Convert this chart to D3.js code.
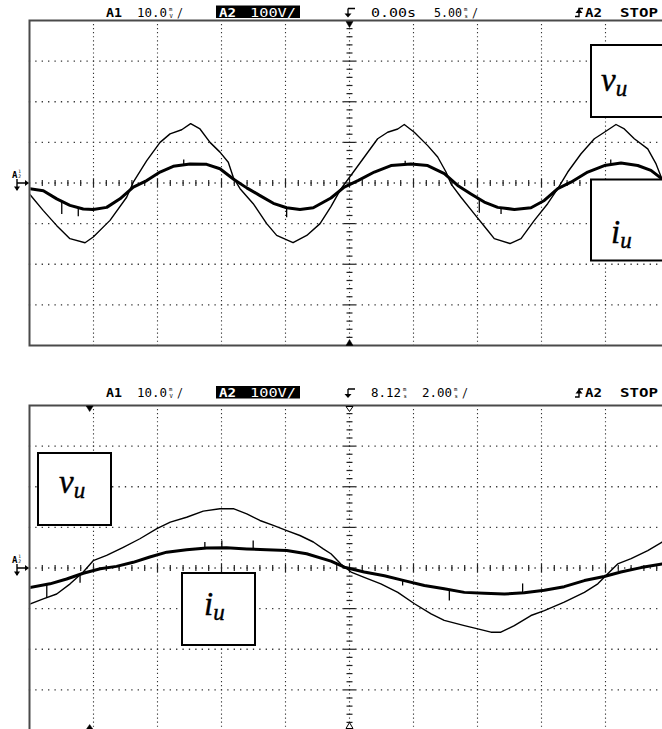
<!DOCTYPE html>
<html>
<head>
<meta charset="utf-8">
<script src="https://cdn.jsdelivr.net/npm/d3@7"></script>
<style>
  html, body { margin: 0; padding: 0; background: #fff; }
  svg { display: block; }
</style>
</head>
<body>
<svg id="scope" width="662" height="729"></svg>
<script>
// ---------- upper record: 5 ms/div, t in ms from trigger ----------
// phase voltage v_u (V, channel A2 at 100 V/div)
const vu1 = [[-25.0,-27],[-23.92,-68],[-22.87,-105],[-21.84,-137],[-20.66,-147],[-20.02,-133],[-18.71,-92],
  [-17.41,-35],[-16.89,2],[-15.84,55],[-14.80,100],[-14.02,121],[-13.11,131],[-12.41,146],[-11.68,133],
  [-10.90,100],[-10.12,76],[-9.47,51],[-9.08,14],[-8.55,-14],[-7.52,-51],[-6.47,-100],[-5.69,-129],
  [-4.41,-147],[-3.34,-129],[-2.30,-100],[-1.45,-58],[-0.66,-14],[0.12,19],[1.16,64],[2.20,109],
  [2.98,125],[3.77,133],[4.28,144],[5.06,125],[6.11,92],[6.89,64],[7.54,27],[7.93,-2],[8.71,-35],
  [9.75,-76],[10.80,-117],[11.31,-137],[12.54,-149],[13.40,-137],[14.44,-92],[15.48,-51],[16.27,-14],
  [17.05,27],[18.09,72],[19.13,109],[19.91,125],[20.82,144],[21.47,133],[22.25,109],[23.30,84],
  [23.95,47],[24.41,10],[25.0,-8]];
// phase current i_u (mV on probe channel A1 at 10 mV/div)
const iu1 = [[-25.0,-1.4],[-23.92,-1.9],[-22.87,-3.9],[-21.84,-5.5],[-20.80,-6.4],[-20.02,-6.5],[-18.97,-6.0],
  [-17.93,-3.9],[-16.89,-1.0],[-15.84,0.6],[-14.80,2.7],[-13.77,4.1],[-12.46,4.7],[-11.16,4.6],[-10.12,3.5],
  [-9.08,1.0],[-8.03,-1.2],[-6.99,-3.1],[-5.95,-5.0],[-4.91,-6.1],[-3.87,-6.5],[-2.83,-6.1],[-1.45,-3.7],
  [-0.41,-1.0],[0.66,0.6],[1.94,2.7],[3.24,4.3],[4.80,4.7],[6.11,4.3],[7.41,2.3],[8.45,-0.6],[9.49,-2.7],
  [10.53,-4.7],[11.58,-6.0],[12.88,-6.5],[14.18,-6.1],[15.22,-4.3],[16.27,-1.4],[17.30,0.2],[18.61,2.7],
  [19.91,4.3],[21.21,4.9],[22.52,4.3],[23.55,3.1],[24.41,1.0],[25.0,-0.4]];
// switching spikes on the current trace: [t, peak mV]
const iu1Spikes = [[-22.48,-7.6],[-21.19,-8.2],[-12.95,5.8],[-4.91,-8.4],[4.35,5.5],[10.14,-7.3],[11.84,-7.6],[20.41,5.8]];

// ---------- lower record: 2 ms/div, delayed 8.12 ms ----------
const vu2 = [[-1.88,-89],[-1.45,-76],[-1.03,-64],[-0.61,-39],[-0.20,-10],[0.11,18],[0.53,31],[1.05,51],
  [1.57,72],[2.10,97],[2.52,113],[3.03,125],[3.55,140],[4.07,146],[4.49,146],[4.91,133],[5.32,117],
  [5.74,105],[6.16,92],[6.57,80],[6.99,64],[7.30,47],[7.54,35],[7.85,10],[8.17,-10],[8.58,-23],[9.10,-39],
  [9.63,-60],[10.15,-88],[10.67,-113],[11.08,-129],[11.71,-142],[12.13,-150],[12.54,-158],[12.85,-158],
  [13.27,-142],[13.79,-117],[14.21,-105],[14.83,-84],[15.46,-60],[15.88,-39],[16.19,-14],[16.50,10],
  [16.92,23],[17.44,43],[17.89,64],[18.12,72]];
const iu2 = [[-1.88,-4.8],[-1.24,-3.9],[-0.72,-2.7],[-0.20,-1.3],[0.33,-0.2],[0.84,0.4],[1.36,1.4],[1.88,2.7],
  [2.41,3.9],[3.03,4.5],[3.66,4.9],[4.28,5.0],[4.91,4.7],[5.53,4.5],[6.16,4.3],[6.78,3.5],[7.54,1.7],
  [7.96,0.2],[8.58,-1.0],[9.21,-1.9],[9.83,-3.1],[10.46,-4.3],[11.08,-5.1],[11.71,-6.0],[12.33,-6.2],
  [12.96,-6.4],[13.58,-6.1],[14.21,-5.5],[14.83,-4.6],[15.46,-3.1],[16.08,-2.1],[16.60,-1.0],[17.23,0.1],
  [17.89,1.0],[18.12,1.3]];
const iu2Spikes = [[-1.34,-7.3],[-0.30,-3.6],[3.60,6.4],[4.13,6.8],[5.11,6.8],[9.78,-4.3],[11.24,-8.0],[13.53,-3.8]];

// ---------- readouts and labels ----------
const ch1Readout = ["A1", "10.0"];
const ch2Readout = ["A2", "100V/"];
const sweep1Readout = ["0.00s", "5.00"];
const sweep2Readout = ["8.12", "2.00"];
const trigReadout = ["A2", "STOP"];
const traceNames = [["v", "u"], ["i", "u"]];

// ---------- drawing ----------
const svg = d3.select("#scope");
const L = 29.5, R = 669.5, PH = 325;
const MONO = "'DejaVu Sans Mono', 'Liberation Mono', monospace";
const SERIF = "Liberation Serif";
const DOT = "#333";

const panels = [
  { top: 20.5, t0: -25, tDiv: 5, base: 16.5, vu: vu1, iu: iu1, spikes: iu1Spikes, delayed: false,
    boxes: [{ x: 591, y: 45, w: 73, h: 72, name: 0, tx: 601, ty: 91 },
            { x: 591, y: 179.5, w: 73, h: 81, name: 1, tx: 611, ty: 243 }] },
  { top: 405.5, t0: 8.12 - 10, tDiv: 2, base: 397, vu: vu2, iu: iu2, spikes: iu2Spikes, delayed: true,
    boxes: [{ x: 38, y: 453, w: 73, h: 72, name: 0, tx: 59, ty: 493 },
            { x: 182, y: 573, w: 73, h: 72, name: 1, tx: 204, ty: 615 }] }
];

// unit written as a small fraction (e.g. m over V)
function stacked(g, x, b, top, bottom) {
  g.append("text").attr("x", x).attr("y", b - 5.6)
    .attr("font-family", MONO).attr("font-size", 5.5).text(top);
  g.append("text").attr("x", x + 0.5).attr("y", b + 1)
    .attr("font-family", MONO).attr("font-size", 5.5).text(bottom);
}

function txt(g, s, x, b, len, opts = {}) {
  return g.append("text").attr("x", x).attr("y", b).text(s)
    .attr("font-family", MONO).attr("font-size", 12.5)
    .attr("font-weight", opts.bold ? "bold" : "normal")
    .attr("fill", opts.fill || "#000")
    .attr("textLength", len).attr("lengthAdjust", "spacingAndGlyphs");
}

function header(p) {
  const g = svg.append("g");
  const b = p.base;
  txt(g, ch1Readout[0], 106, b, 16, { bold: true });
  txt(g, ch1Readout[1], 137, b, 30);
  stacked(g, 169, b, "m", "V");
  txt(g, "/", 177, b, 6);
  g.append("rect").attr("x", 216).attr("y", b - 11).attr("width", 84).attr("height", 12.5).attr("fill", "#000");
  txt(g, ch2Readout[0], 219, b, 17, { bold: true, fill: "#fff" });
  txt(g, ch2Readout[1], 250, b, 46, { fill: "#fff" });
  // trigger-delay glyph
  g.append("path").attr("d", `M348,${b - 8} H355 M348,${b - 8} V${b - 1}`)
    .attr("stroke", "#000").attr("stroke-width", 1.3).attr("fill", "none");
  g.append("path").attr("d", `M344.5,${b - 3} L351.5,${b - 3} L348,${b + 1} Z`).attr("fill", "#000");
  if (!p.delayed) {
    txt(g, sweep1Readout[0], 371, b, 45);
    txt(g, sweep1Readout[1], 434, b, 28);
    stacked(g, 464, b, "m", "s");
    txt(g, "/", 472, b, 6);
  } else {
    txt(g, sweep2Readout[0], 371, b, 30);
    stacked(g, 403, b, "m", "s");
    txt(g, sweep2Readout[1], 422, b, 30);
    stacked(g, 454, b, "m", "s");
    txt(g, "/", 462, b, 6);
  }
  // rising-edge trigger glyph
  g.append("path").attr("d", `M575,${b} H579 V${b - 8} H583`)
    .attr("stroke", "#000").attr("stroke-width", 1.4).attr("fill", "none");
  g.append("path").attr("d", `M575.5,${b - 3.5} L582.5,${b - 3.5} L579,${b - 8} Z`).attr("fill", "#000");
  txt(g, trigReadout[0], 585, b, 17, { bold: true });
  txt(g, trigReadout[1], 620, b, 38, { bold: true });
}

// channel ground-level indicator at the left edge
function chMarker(g, yc) {
  g.append("text").attr("x", 12).attr("y", yc - 5)
    .attr("font-family", MONO).attr("font-weight", "bold").attr("font-size", 9).text("A");
  g.append("text").attr("x", 18.3).attr("y", yc - 10.5)
    .attr("font-family", MONO).attr("font-size", 4.6).text("1");
  g.append("text").attr("x", 18.3).attr("y", yc - 4.8)
    .attr("font-family", MONO).attr("font-size", 4.6).text("2");
  g.append("path").attr("d", `M17,${yc - 4} V${yc + 7} M17,${yc} H26`)
    .attr("stroke", "#000").attr("stroke-width", 1.4).attr("fill", "none");
  g.append("path").attr("d", `M25,${yc - 3} L29,${yc} L25,${yc + 3} Z`).attr("fill", "#000");
  g.append("path").attr("d", `M14,${yc + 3.5} L20,${yc + 3.5} L17,${yc + 8} Z`).attr("fill", "#000");
}

panels.forEach((p, pi) => {
  header(p);
  const g = svg.append("g");
  const x = d3.scaleLinear().domain([p.t0, p.t0 + 10 * p.tDiv]).range([L, R]);
  const yV = d3.scaleLinear().domain([-400, 400]).range([p.top + PH, p.top]);
  const yI = d3.scaleLinear().domain([-40, 40]).range([p.top + PH, p.top]);
  const xMajor = d3.range(11).map(k => p.t0 + k * p.tDiv);
  const yMajor = d3.range(-400, 401, 100);
  const tc = p.t0 + 5 * p.tDiv;
  const yc = yV(0);

  // dotted graticule
  g.selectAll(".gv").data(xMajor.slice(1, 10)).join("line")
    .attr("x1", d => x(d)).attr("x2", d => x(d))
    .attr("y1", p.top - 0.6).attr("y2", p.top + PH)
    .attr("stroke", DOT).attr("stroke-width", 1.1).attr("stroke-dasharray", "1.2 2.86");
  g.selectAll(".gh").data(yMajor.slice(1, 8)).join("line")
    .attr("x1", L - 0.65).attr("x2", R)
    .attr("y1", d => yV(d)).attr("y2", d => yV(d))
    .attr("stroke", DOT).attr("stroke-width", 1.4).attr("stroke-dasharray", "1.3 5.1");

  // centre axes with minor ticks
  const xMinor = d3.range(51).map(k => p.t0 + k * p.tDiv / 5);
  g.selectAll(".tx").data(xMinor.slice(1, 50)).join("line")
    .attr("x1", d => x(d)).attr("x2", d => x(d))
    .attr("y1", (d, i) => yc - ((i + 1) % 5 === 0 ? 4.5 : 3))
    .attr("y2", (d, i) => yc + ((i + 1) % 5 === 0 ? 4.5 : 3))
    .attr("stroke", "#222").attr("stroke-width", 1.2);
  const yMinor = d3.range(-400, 401, 20);
  g.selectAll(".ty").data(yMinor.slice(1, 40)).join("line")
    .attr("x1", d => x(tc) - (d % 100 === 0 ? 6 : 3))
    .attr("x2", d => x(tc) + (d % 100 === 0 ? 6 : 3))
    .attr("y1", d => yV(d)).attr("y2", d => yV(d))
    .attr("stroke", "#222").attr("stroke-width", 1.2);

  // frame
  g.append("path")
    .attr("d", `M${R},${p.top} H${L} V${p.top + PH} H${R}`)
    .attr("fill", "none").attr("stroke", "#4a4a4a").attr("stroke-width", 2);

  // trigger position markers
  const tri = (cx, yTip, yBase, filled) => g.append("path")
    .attr("d", `M${cx - 3.5},${yBase} L${cx + 3.5},${yBase} L${cx},${yTip} Z`)
    .attr("fill", filled ? "#000" : "#fff").attr("stroke", "#000").attr("stroke-width", filled ? 0.5 : 1);
  if (!p.delayed) {
    tri(x(tc), p.top + 7, p.top + 1, true);
    tri(x(tc), p.top + PH - 6, p.top + PH, true);
  } else {
    tri(x(0), p.top + 6, p.top + 0.5, true);
    tri(x(tc), p.top + 6, p.top + 1, false);
    tri(x(tc), p.top + PH - 8, p.top + PH - 2, false);
    tri(x(0), p.top + PH - 6, p.top + PH - 1, true);
  }

  chMarker(svg.append("g"), yc);

  // traces
  const clipId = "clip" + pi;
  svg.append("clipPath").attr("id", clipId).append("rect")
    .attr("x", L + 1).attr("y", p.top + 1).attr("width", R - L - 1).attr("height", PH - 1);
  const tr = svg.append("g").attr("clip-path", `url(#${clipId})`);

  const lineV = d3.line().x(d => x(d[0])).y(d => yV(d[1]));
  const lineI = d3.line().x(d => x(d[0])).y(d => yI(d[1]));
  tr.append("path").datum(p.vu).attr("d", lineV)
    .attr("fill", "none").attr("stroke", "#000").attr("stroke-width", 1.4).attr("stroke-linejoin", "round");
  tr.append("path").datum(p.iu).attr("d", lineI)
    .attr("fill", "none").attr("stroke", "#000").attr("stroke-width", 3).attr("stroke-linejoin", "round");

  const iAt = d3.scaleLinear().domain(p.iu.map(d => d[0])).range(p.iu.map(d => d[1]));
  tr.selectAll(".sp").data(p.spikes).join("line")
    .attr("x1", d => x(d[0])).attr("x2", d => x(d[0]))
    .attr("y1", d => yI(iAt(d[0]))).attr("y2", d => yI(d[1]))
    .attr("stroke", "#000").attr("stroke-width", 1.3);

  // trace name boxes
  p.boxes.forEach(bx => {
    const bg = svg.append("g");
    bg.append("rect").attr("x", bx.x).attr("y", bx.y).attr("width", bx.w).attr("height", bx.h)
      .attr("fill", "#fff").attr("stroke", "#000").attr("stroke-width", 2);
    const t = bg.append("text").attr("x", bx.tx).attr("y", bx.ty)
      .attr("font-family", SERIF).attr("font-style", "italic")
      .attr("stroke", "#000").attr("stroke-width", 0.4);
    t.append("tspan").attr("font-size", 33).text(traceNames[bx.name][0]);
    t.append("tspan").attr("font-size", 23).attr("dy", 5).text(traceNames[bx.name][1]);
  });
});
</script>
</body>
</html>
